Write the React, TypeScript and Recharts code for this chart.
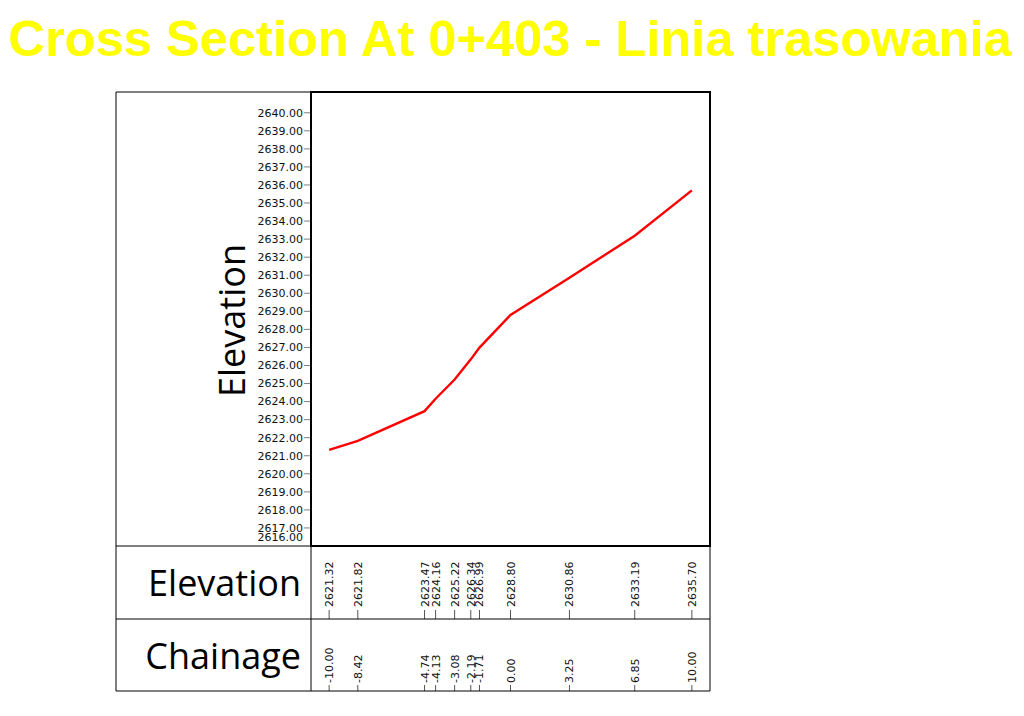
import { Line, LineChart, XAxis, YAxis } from "recharts";

// Cross section 0+403: offsets from the alignment and the ground elevations.
const CHAINAGE = [-10, -8.42, -4.74, -4.13, -3.08, -2.19, -1.71, 0, 3.25, 6.85, 10];
const ELEVATION = [
  2621.32, 2621.82, 2623.47, 2624.16, 2625.22, 2626.34, 2626.99, 2628.8, 2630.86,
  2633.19, 2635.7,
];
const Y_TICKS = [
  2616, 2617, 2618, 2619, 2620, 2621, 2622, 2623, 2624, 2625, 2626, 2627, 2628,
  2629, 2630, 2631, 2632, 2633, 2634, 2635, 2636, 2637, 2638, 2639, 2640,
];

const TITLE = "Cross Section At 0+403 - Linia trasowania";

const data = CHAINAGE.map((ch, i) => ({ ch, elev: ELEVATION[i] }));

// frame layout (px)
const PLOT_L = 311;
const PLOT_R = 710;
const PLOT_T = 92;
const PLOT_B = 546;
const BAND_MID = 619;
const BAND_B = 691;
const FRAME_L = 116;

const SMALL_FONT = "'DejaVu Sans', sans-serif";
const LABEL_FONT = "'Open Sans', 'Noto Sans', sans-serif";

function YTick(props: any) {
  const { x, y, payload } = props;
  const isLast = payload.value === Y_TICKS[0];
  return (
    <g>
      {!isLast && <line x1={x + 1} x2={x + 7} y1={y} y2={y} stroke="#808080" strokeWidth={1} />}
      <text
        x={x}
        y={isLast ? y - 9 : y}
        dy="0.35em"
        textAnchor="end"
        fontFamily={SMALL_FONT}
        fontSize={11}
        fill="#111"
      >
        {payload.value.toFixed(2)}
      </text>
    </g>
  );
}

function BandTick(props: any) {
  const { x, payload } = props;
  const i = CHAINAGE.indexOf(payload.value);
  const elev = ELEVATION[i];
  return (
    <g>
      <line x1={x} x2={x} y1={610} y2={BAND_MID} stroke="#555" strokeWidth={1} />
      <text
        transform={`translate(${x + 4},607) rotate(-90)`}
        textAnchor="start"
        fontFamily={SMALL_FONT}
        fontSize={11}
        fill="#111"
      >
        {elev.toFixed(2)}
      </text>
      <line x1={x} x2={x} y1={685} y2={BAND_B} stroke="#555" strokeWidth={1} />
      <text
        transform={`translate(${x + 4},683) rotate(-90)`}
        textAnchor="start"
        fontFamily={SMALL_FONT}
        fontSize={11}
        fill="#111"
      >
        {payload.value.toFixed(2)}
      </text>
    </g>
  );
}

export default function App() {
  return (
    <div style={{ position: "absolute", left: 0, top: 0, width: 1024, height: 716, background: "#fff" }}>
      <LineChart
        width={1024}
        height={716}
        data={data}
        margin={{ top: PLOT_T, right: 1024 - PLOT_R, bottom: 716 - BAND_B, left: PLOT_L - 80 }}
      >
        <XAxis
          dataKey="ch"
          type="number"
          domain={[-11, 11]}
          ticks={CHAINAGE}
          interval={0}
          height={BAND_B - PLOT_B}
          axisLine={false}
          tickLine={false}
          tick={<BandTick />}
        />
        <YAxis
          type="number"
          domain={[2616, 2641.15]}
          ticks={Y_TICKS}
          interval={0}
          width={80}
          axisLine={false}
          tickLine={false}
          tick={<YTick />}
          tickMargin={0}
          tickSize={8}
        />
        <Line
          type="linear"
          dataKey="elev"
          stroke="#FF0000"
          strokeWidth={2.4}
          dot={false}
          isAnimationActive={false}
        />
      </LineChart>
      <svg
        width={1024}
        height={716}
        style={{ position: "absolute", left: 0, top: 0, pointerEvents: "none" }}
      >
        <text
          x={510}
          y={55.5}
          textAnchor="middle"
          fontFamily="'Liberation Sans', Arial, sans-serif"
          fontWeight="bold"
          fontSize={50.6}
          fill="#FFFF00"
        >
          {TITLE}
        </text>
        {/* outer frame and bands */}
        <g stroke="#000" strokeWidth={1} fill="none">
          <line x1={FRAME_L} x2={PLOT_R} y1={PLOT_T} y2={PLOT_T} />
          <line x1={FRAME_L} x2={FRAME_L} y1={PLOT_T} y2={BAND_B} />
          <line x1={FRAME_L} x2={PLOT_R} y1={PLOT_B} y2={PLOT_B} />
          <line x1={FRAME_L} x2={PLOT_R} y1={BAND_MID} y2={BAND_MID} />
          <line x1={FRAME_L} x2={PLOT_R} y1={BAND_B} y2={BAND_B} />
          <line x1={PLOT_L} x2={PLOT_L} y1={PLOT_B} y2={BAND_B} />
          <line x1={PLOT_R} x2={PLOT_R} y1={PLOT_B} y2={BAND_B} />
        </g>
        <rect
          x={PLOT_L}
          y={PLOT_T}
          width={PLOT_R - PLOT_L}
          height={PLOT_B - PLOT_T}
          fill="none"
          stroke="#000"
          strokeWidth={2}
        />
        <text
          transform="translate(245,320.5) rotate(-90)"
          textAnchor="middle"
          fontFamily={LABEL_FONT}
          fontSize={36}
          fill="#000"
        >
          Elevation
        </text>
        <text x={301} y={596} textAnchor="end" fontFamily={LABEL_FONT} fontSize={36} fill="#000">
          Elevation
        </text>
        <text x={301} y={669} textAnchor="end" fontFamily={LABEL_FONT} fontSize={36} fill="#000">
          Chainage
        </text>
      </svg>
    </div>
  );
}
